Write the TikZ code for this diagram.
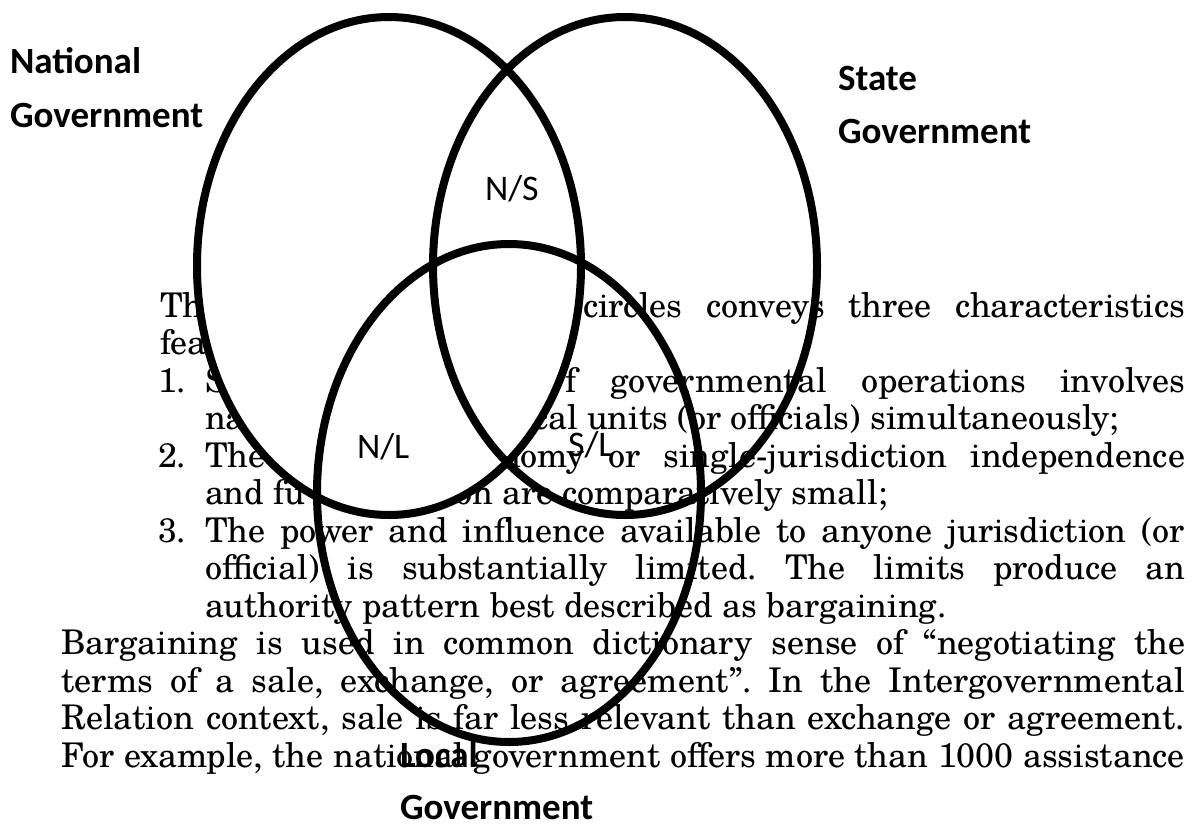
\documentclass[tikz,border=0pt]{standalone}
\usepackage{fontspec}
\setmainfont{TeX Gyre Schola}
\newfontfamily\lblfont{Carlito}
\tikzset{
  txt/.style={anchor=base west, inner sep=0pt, outer sep=0pt, font=\fontsize{34}{37.5}\selectfont\frenchspacing},
  lbl/.style={anchor=base west, inner sep=0pt, outer sep=0pt, font=\lblfont\fontsize{36}{40}\selectfont},
  head/.style={anchor=base west, inner sep=0pt, outer sep=0pt, font=\lblfont\bfseries\fontsize{37}{40}\selectfont},
  ring/.style={line width=8pt, draw=black},
}
\newcommand\jbox[2]{\makebox[#1pt][s]{#2}}
\begin{document}
\begin{tikzpicture}[x=1pt,y=-1pt]
\useasboundingbox (0,0) rectangle (1198,825);
% body text
\node[txt] (t1a) at (160,317) {Th};
\node[txt] (t1b) at (583,317) {\jbox{602}{circles conveys three characteristics}};
\node[txt] (t2a) at (160,354.5) {fea};
\node[txt] (n1) at (158,392) {1.};
\node[txt] (t3a) at (205,392) {S};
\node[txt] (t3b) at (565,392) {\jbox{620}{f governmental operations involves}};
\node[txt] (t4a) at (205,429.5) {na};
\node[txt] (t4b) at (533,429.5) {cal units (or officials) simultaneously;};
\node[txt] (n2) at (158,467) {2.};
\node[txt] (t5a) at (205,467) {The};
\node[txt] (t5b) at (500,467) {\jbox{685}{nomy or single-jurisdiction independence}};
\node[txt] (t6a) at (205,504.5) {and fu};
\node[txt] (t6b) at (455,504.5) {on are comparatively small;};
\node[txt] (n3) at (158,542) {3.};
\node[txt] (t7) at (205,542) {\jbox{980}{The power and influence available to anyone jurisdiction (or}};
\node[txt] (t8) at (205,579.5) {\jbox{980}{official) is substantially limited. The limits produce an}};
\node[txt] (t9) at (205,617) {authority pattern best described as bargaining.};
\node[txt] (t10) at (61,654.5) {\jbox{1124}{Bargaining is used in common dictionary sense of “negotiating the}};
\node[txt] (t11) at (61,692) {\jbox{1124}{terms of a sale, exchange, or agreement”. In the Intergovernmental}};
\node[txt] (t12) at (61,729.5) {\jbox{1124}{Relation context, sale is far less relevant than exchange or agreement.}};
\node[txt] (t13) at (61,767) {\jbox{1124}{For example, the national government offers more than 1000 assistance}};
% national circle hides the text beneath it
\fill[white] (389,266) ellipse [x radius=192pt, y radius=249pt];
\draw[ring] (389,266) ellipse [x radius=192pt, y radius=249pt];
\draw[ring] (625,266) ellipse [x radius=192pt, y radius=249pt];
\draw[ring] (509,493) ellipse [x radius=192pt, y radius=249pt];
% labels
\node[head] (nat1) at (10,73) {National};
\node[head] (nat2) at (10,127) {Government};
\node[head] (sta1) at (838,90) {State};
\node[head] (sta2) at (838,143) {Government};
\node[head] (loc1) at (400,767) {Local};
\node[head] (loc2) at (400,819) {Government};
\node[lbl] (ns) at (485,200) {N/S};
\node[lbl] (nl) at (357,458) {N/L};
\node[lbl] (sl) at (568,456) {S/L};
\end{tikzpicture}
\end{document}
